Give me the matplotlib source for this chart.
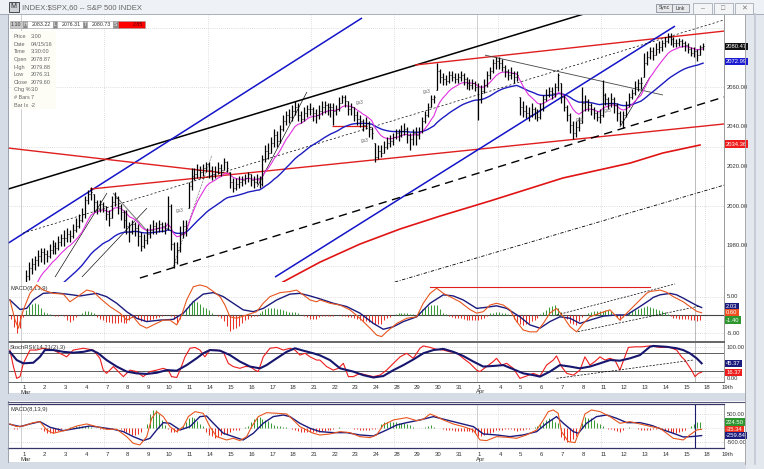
import numpy as np
import pandas as pd
import matplotlib
matplotlib.use("Agg")
import matplotlib.pyplot as plt
from matplotlib.patches import Rectangle
from matplotlib.lines import Line2D
from matplotlib.transforms import blended_transform_factory as blend

plt.rcParams['font.family'] = ['Liberation Sans', 'DejaVu Sans']

W, H = 764, 469

# ---------------- data ----------------
day_labels = ['1', '2', '3', '4', '7', '8', '9', '10', '11', '14', '15', '16', '17', '18',
              '21', '22', '23', '24', '28', '29', '30', '31', '1', '4', '5', '6', '7', '8',
              '11', '12', '13', '14', '15', '18', '19th']
month_labels = {0: 'Mar', 22: 'Apr'}
monday_days = [4, 9, 14, 18, 23, 28, 33]
month_days = [0, 22]
cursor_day = 32.54

# estimated hourly closes of the days before the visible window (Feb 23 - Feb 29)
prior_closes = [1940, 1935, 1931, 1929, 1927, 1925, 1921,
                1905, 1895, 1900, 1910, 1918, 1924, 1930,
                1932, 1936, 1940, 1942, 1944, 1947, 1952,
                1958, 1960, 1955, 1952, 1950, 1948, 1948,
                1955, 1952, 1948, 1945, 1944, 1940, 1932]

# hourly bars, 7 per day, Mar 1 .. Apr 15
closes = [
    [1952, 1965, 1969, 1971, 1973, 1975, 1977],
    [1976, 1975, 1978, 1980, 1979, 1982, 1984],
    [1984, 1986, 1985, 1988, 1990, 1993, 1996],
    [2003, 2006, 2007, 2002, 1999, 2001, 2000],
    [1996, 1994, 2002, 2004, 2000, 1997, 1993],
    [1990, 1987, 1991, 1989, 1985, 1980, 1983],
    [1986, 1988, 1990, 1989, 1991, 1990, 1989],
    [2000, 1981, 1972, 1978, 1986, 1990, 1989],
    [2010, 2015, 2016, 2018, 2017, 2019, 2021],
    [2018, 2016, 2017, 2019, 2018, 2022, 2019],
    [2012, 2009, 2011, 2012, 2013, 2014, 2016],
    [2013, 2012, 2014, 2011, 2024, 2028, 2027],
    [2032, 2036, 2033, 2039, 2043, 2046, 2045],
    [2048, 2050, 2046, 2044, 2047, 2049, 2049],
    [2047, 2046, 2048, 2050, 2051, 2050, 2050],
    [2048, 2049, 2052, 2055, 2053, 2049, 2050],
    [2046, 2044, 2043, 2041, 2042, 2039, 2037],
    [2025, 2028, 2027, 2030, 2032, 2033, 2035],
    [2037, 2036, 2038, 2039, 2036, 2034, 2037],
    [2036, 2038, 2043, 2046, 2050, 2054, 2055],
    [2068, 2065, 2064, 2063, 2066, 2065, 2064],
    [2065, 2066, 2064, 2062, 2061, 2062, 2060],
    [2054, 2058, 2061, 2066, 2068, 2072, 2073],
    [2072, 2070, 2068, 2066, 2067, 2065, 2066],
    [2050, 2048, 2047, 2046, 2049, 2047, 2045],
    [2049, 2054, 2056, 2058, 2057, 2060, 2066],
    [2055, 2050, 2046, 2041, 2037, 2040, 2042],
    [2052, 2053, 2051, 2049, 2047, 2045, 2046],
    [2056, 2054, 2052, 2054, 2051, 2047, 2043],
    [2046, 2051, 2055, 2057, 2060, 2062, 2062],
    [2072, 2075, 2078, 2076, 2079, 2080, 2082],
    [2083, 2085, 2084, 2082, 2082, 2083, 2082],
    [2081, 2079, 2077, 2078, 2076, 2080, 2080.5],
]
highs = [
    [1955, 1968, 1972, 1974, 1975, 1978, 1979],
    [1979, 1978, 1981, 1983, 1982, 1985, 1986],
    [1988, 1989, 1988, 1991, 1994, 1996, 1999],
    [2005, 2008, 2009.5, 2006, 2003, 2003, 2002],
    [2000, 1998, 2005, 2007, 2005, 2001, 1998],
    [1998, 1992, 1993, 1992, 1991, 1987, 1986],
    [1989, 1991, 1993, 1992, 1993, 1992, 1992],
    [2005, 2001, 1982, 1982, 1990, 1993, 1993],
    [2012, 2019, 2019, 2021, 2020, 2021, 2022],
    [2022, 2020, 2020, 2022, 2021, 2024.5, 2023],
    [2017, 2014, 2014, 2015, 2015, 2016, 2017],
    [2016, 2015, 2016, 2015, 2026, 2031, 2032],
    [2035, 2039, 2038, 2041, 2046, 2048, 2049],
    [2051, 2053, 2052, 2048, 2050, 2051, 2052],
    [2050, 2049, 2051, 2053, 2053, 2052, 2052],
    [2052, 2051, 2055, 2056, 2056, 2053, 2052],
    [2050, 2048, 2046, 2044, 2045, 2043, 2040],
    [2032, 2031, 2031, 2033, 2035, 2036, 2037],
    [2039, 2039, 2041, 2042, 2040, 2037, 2039],
    [2040, 2040, 2045, 2048, 2052, 2056, 2056],
    [2072, 2069, 2067, 2066, 2068, 2068, 2067],
    [2067, 2068, 2067, 2065, 2064, 2064, 2063],
    [2062, 2061, 2064, 2068, 2070, 2074, 2075],
    [2075, 2074, 2071, 2069, 2070, 2068, 2068],
    [2055, 2053, 2051, 2050, 2052, 2050, 2049],
    [2052, 2056, 2059, 2060, 2060, 2062, 2067],
    [2062, 2056, 2051, 2047, 2043, 2043, 2045],
    [2060, 2056, 2054, 2052, 2050, 2048, 2049],
    [2063.5, 2057, 2055, 2057, 2055, 2052, 2048],
    [2048, 2053, 2057, 2059, 2063, 2064, 2065],
    [2077, 2078, 2080, 2080, 2082, 2083, 2083.5],
    [2085, 2087, 2087, 2085, 2084, 2084.5, 2084],
    [2083, 2082, 2080, 2080, 2079, 2081, 2082],
]
lows = [
    [1937, 1950, 1963, 1966, 1968, 1970, 1972],
    [1971, 1972, 1974, 1976, 1976, 1978, 1980],
    [1980, 1982, 1982, 1984, 1987, 1989, 1992],
    [1994, 2001, 2003, 1997, 1996, 1997, 1997],
    [1993, 1990, 1994, 2000, 1996, 1993, 1989],
    [1986, 1982, 1986, 1985, 1980, 1977.5, 1979],
    [1981, 1984, 1986, 1986, 1987, 1987, 1986],
    [1988, 1978, 1969, 1971, 1977, 1984, 1985],
    [1999, 2008, 2013, 2014, 2014, 2015, 2017],
    [2014, 2013, 2014, 2016, 2015, 2018, 2017],
    [2009, 2007, 2008, 2009, 2010, 2011, 2012],
    [2010, 2009, 2011, 2009, 2010, 2022, 2024],
    [2027, 2030, 2030, 2032, 2038, 2041, 2042],
    [2043, 2046, 2043, 2042, 2043, 2045, 2046],
    [2043, 2042, 2044, 2046, 2047, 2046, 2045],
    [2041, 2046, 2048, 2052, 2050, 2046, 2046],
    [2043, 2041, 2040, 2038, 2039, 2035, 2034],
    [2022.5, 2024, 2025, 2027, 2029, 2030, 2031],
    [2034, 2033, 2035, 2036, 2032, 2028.5, 2031],
    [2031, 2034, 2037, 2042, 2045, 2050, 2052],
    [2058.5, 2062, 2061, 2061, 2062, 2063, 2062],
    [2062, 2063, 2061, 2059, 2058.5, 2059, 2058],
    [2043.5, 2052, 2057, 2060, 2064, 2067, 2069],
    [2069, 2068, 2065, 2063.5, 2064, 2062, 2063],
    [2046, 2045, 2044.5, 2043, 2045, 2044, 2043],
    [2044, 2048, 2053, 2055, 2054, 2055, 2058],
    [2052, 2048, 2043, 2037, 2034, 2035, 2038],
    [2042, 2048, 2048, 2046, 2044, 2043, 2042],
    [2045, 2051, 2049, 2050, 2047, 2043, 2041],
    [2039.5, 2045, 2050, 2054, 2056, 2058, 2059],
    [2065, 2071, 2074, 2073.5, 2076, 2077, 2078],
    [2080, 2082, 2081, 2080, 2080, 2080.5, 2080],
    [2078, 2077, 2075.5, 2075, 2073, 2076, 2078.5],
]

# long red moving average (day, price)
red_ma = [(12.63, 1961.8), (14.42, 1971.8), (16.35, 1980.9), (18.29, 1988.5), (20.22, 1995.0),
          (22.63, 2002.6), (26.16, 2014.2), (29.40, 2021.7), (30.99, 2026.8), (32.78, 2030.8)]

# trend lines on the price panel: (day0, price0, day1, price1)
trendlines = [
    (-0.652, 2008.6, 27.95, 2099.3),
    (-0.652, 1981.3, 16.45, 2094.8),
    (-0.652, 2029.3, 10.07, 2016.4),
    (3.31, 2008.6, 33.94, 2041.4),
    (19.01, 2071.1, 33.94, 2088.2),
    (12.25, 1964.3, 31.57, 2090.7),
    (5.72, 1963.8, 33.94, 2055.0),
    (18.04, 1961.8, 33.94, 2010.6),
    (0.07, 1986.4, 33.94, 2093.8),
    (22.39, 2076.1, 30.99, 2056.0),
    (1.62, 1964.3, 4.13, 2006.6),
    (2.92, 1964.3, 6.06, 1999.0),
    (4.42, 2006.6, 6.11, 1987.0),
    (7.32, 1969.3, 9.20, 2025.7),
    (11.38, 2009.6, 13.79, 2057.5),
    (28.91, 2039.8, 30.36, 2065.0),
    (15.00, 2040.4, 16.69, 2040.4),
]
trend_styles = [
    dict(color='#000000', lw=1.1),
    dict(color='#1414c8', lw=1.1),
    dict(color='#e01e1e', lw=1.0),
    dict(color='#e01e1e', lw=1.0),
    dict(color='#e01e1e', lw=1.0),
    dict(color='#1414c8', lw=1.1),
    dict(color='#000000', lw=1.0, dashes=(6, 4)),
    dict(color='#000000', lw=0.6, dashes=(4, 2, 1, 2)),
    dict(color='#000000', lw=0.5, dashes=(3, 3)),
    dict(color='#444444', lw=0.6),
    dict(color='#000000', lw=0.45),
    dict(color='#000000', lw=0.45),
    dict(color='#808080', lw=0.8),
    dict(color='#000000', lw=0.45, dashes=(1, 1.5)),
    dict(color='#000000', lw=0.45),
    dict(color='#000000', lw=0.45),
    dict(color='#e01e1e', lw=0.9),
]
notes = [(7.66, 1998.0, 'gs3'), (16.35, 2052.4, 'gs3'), (16.59, 2033.3, 'gs3'),
         (19.59, 2058.0, 'gs3'), (26.98, 2043.9, 'gap'), (28.33, 2048.4, 'gs3')]

# upper MACD(8,13,9) (day, value)
macd1_line = [(-0.56, 4.1), (-0.31, -1.4), (-0.15, -3.6), (0.09, 1.4), (0.41, 5.9), (0.73, 8.2),
              (1.05, 6.8), (1.54, 5.9), (2.02, 5.7), (2.34, 3.6), (2.83, 5.5), (3.15, 6.8),
              (3.47, 6.4), (3.79, 4.6), (4.27, 2.3), (4.76, 0.5), (5.08, -1.4), (5.40, -0.5),
              (5.72, -2.7), (6.05, -3.6), (6.37, -2.7), (6.85, -1.4), (7.17, -1.4), (7.50, -2.7),
              (7.74, 0.0), (7.98, 4.1), (8.30, 7.7), (8.62, 8.2), (8.94, 7.7), (9.27, 6.4),
              (9.59, 5.0), (9.83, 2.7), (10.07, -0.5), (10.39, -0.9), (10.88, 0.0), (11.36, 0.9),
              (11.68, 3.2), (12.00, 5.0), (12.49, 6.1), (12.97, 6.4), (13.29, 6.8), (13.61, 5.5),
              (13.94, 4.1), (14.26, 3.6), (14.42, 4.1), (14.90, 3.2), (15.39, 2.7), (15.87, 1.4),
              (16.35, -0.9), (16.84, -3.6), (17.16, -5.5), (17.40, -5.9), (17.64, -4.6),
              (18.13, -2.3), (18.61, -0.9), (19.09, -0.5), (19.41, 3.2), (19.74, 5.9), (20.06, 7.3),
              (20.38, 5.9), (20.70, 5.0), (21.18, 3.6), (21.66, 1.5), (21.99, 0.5), (22.31, 0.9),
              (22.63, 2.7), (22.95, 3.2), (23.28, 2.7), (23.60, 1.4), (23.92, -1.8), (24.24, -4.1),
              (24.56, -4.6), (24.89, -4.6), (25.21, -2.3), (25.53, 0.5), (25.85, 1.8),
              (26.18, -0.5), (26.50, -3.2), (26.82, -4.6), (27.14, -2.3), (27.46, -0.5),
              (27.95, 0.5), (28.43, 1.4), (28.91, -1.4), (29.24, 0.5), (29.72, 3.2), (30.20, 5.9),
              (30.36, 6.4), (30.85, 6.8), (31.17, 6.2), (31.49, 5.0), (31.97, 3.6), (32.29, 2.3),
              (32.62, 1.0), (32.86, 0.6)]
macd1_signal = [(-0.56, 4.1), (-0.07, 1.5), (0.25, 1.8), (0.57, 4.1), (1.05, 5.9), (1.54, 6.1),
                (2.18, 5.7), (2.83, 5.2), (3.63, 5.9), (4.11, 5.0), (4.60, 3.2), (5.08, 0.9),
                (5.56, -0.9), (6.05, -1.8), (6.69, -1.4), (7.33, -1.2), (7.82, 0.5), (8.30, 3.6),
                (8.78, 5.7), (9.27, 6.1), (9.75, 5.0), (10.23, 3.2), (10.71, 1.4), (11.20, 0.9),
                (11.68, 1.8), (12.33, 4.1), (12.97, 5.7), (13.45, 5.9), (13.94, 5.2), (14.42, 4.4),
                (15.06, 3.2), (15.71, 2.3), (16.35, 0.5), (17.00, -2.3), (17.48, -3.9),
                (17.97, -3.2), (18.45, -1.8), (19.09, -0.5), (19.74, 3.2), (20.38, 5.5),
                (20.86, 5.2), (21.34, 4.1), (21.99, 1.8), (22.47, 2.1), (22.95, 2.5), (23.44, 1.8),
                (24.08, -0.5), (24.56, -2.7), (25.05, -3.6), (25.53, -1.8), (26.01, -0.5),
                (26.50, -0.9), (26.98, -2.3), (27.46, -1.4), (28.11, -0.3), (28.75, 0.0),
                (29.24, 0.0), (29.88, 2.3), (30.36, 4.1), (30.52, 4.8), (30.85, 5.5), (31.33, 5.9),
                (31.65, 5.5), (31.97, 4.6), (32.29, 3.6), (32.62, 2.6), (32.86, 2.03)]

# MACD panel annotations: (day0, v0, day1, v1)
macd_lines = [(19.73, 7.65, 30.36, 7.65), (25.86, 0.0, 31.57, 8.47), (26.88, -4.56, 32.78, 2.46)]
stoch_line = (25.85, -4.9, 32.46, 57.3)

# StochRSI (day, value)
stoch_k = [(-0.56, 91), (-0.39, 35), (-0.23, -5), (-0.07, 1), (0.09, 46), (0.41, 91), (0.73, 91),
           (1.05, 97), (1.54, 91), (2.02, 74), (2.18, 68), (2.50, 91), (2.99, 97), (3.47, 91),
           (3.79, 63), (3.95, 23), (4.11, 12), (4.44, 35), (4.68, 18), (4.92, 1), (5.24, 23),
           (5.56, 18), (5.88, 1), (6.21, 18), (6.53, 23), (6.85, 29), (7.09, 23), (7.25, 1),
           (7.50, -2), (7.66, 23), (7.90, 68), (8.14, 97), (8.38, 100), (8.62, 91), (8.86, 68),
           (9.10, 91), (9.43, 91), (9.75, 85), (9.99, 46), (10.23, 35), (10.55, 29), (10.80, 35),
           (11.04, 35), (11.28, 23), (11.44, 18), (11.68, 68), (12.00, 97), (12.33, 100),
           (12.65, 91), (12.97, 97), (13.21, 91), (13.45, 74), (13.70, 80), (13.94, 68),
           (14.26, 57), (14.42, 57), (14.74, 35), (15.06, 23), (15.31, 29), (15.55, 46),
           (15.79, 1), (16.03, 1), (16.35, 12), (16.68, 6), (17.00, 1), (17.32, 6), (17.64, 23),
           (17.97, 46), (18.29, 68), (18.61, 80), (18.93, 63), (19.25, 97), (19.41, 105),
           (19.74, 100), (20.06, 93), (20.38, 91), (20.70, 85), (21.02, 82), (21.34, 63),
           (21.66, 46), (21.99, 23), (22.15, 18), (22.47, 35), (22.79, 52), (22.95, 63),
           (23.20, 40), (23.44, 46), (23.76, 29), (24.08, -5), (24.40, 3), (24.73, 12),
           (25.05, 3), (25.37, 40), (25.69, 57), (25.85, 71), (26.09, 35), (26.34, 12),
           (26.66, 6), (26.98, 23), (27.22, 68), (27.46, 40), (27.70, 52), (27.95, 68),
           (28.19, 57), (28.43, 63), (28.67, 57), (28.91, 23), (29.15, 68), (29.32, 100),
           (29.64, 102), (29.96, 102), (30.36, 105), (30.85, 100), (31.33, 100), (31.65, 91),
           (31.89, 68), (32.05, 57), (32.21, 40), (32.37, 23), (32.54, 1), (32.70, 12),
           (32.86, 16)]
stoch_d = [(-0.56, 85), (-0.23, 57), (0.09, 46), (0.57, 48), (0.89, 68), (1.13, 91), (1.54, 91),
           (2.02, 85), (2.50, 82), (2.99, 85), (3.39, 91), (3.71, 80), (4.11, 57), (4.60, 35),
           (5.08, 18), (5.56, 12), (6.05, 10), (6.53, 14), (7.01, 23), (7.50, 21), (7.98, 40),
           (8.46, 63), (8.78, 80), (9.10, 91), (9.59, 89), (10.07, 74), (10.55, 52), (11.04, 35),
           (11.52, 29), (11.84, 40), (12.33, 63), (12.81, 85), (13.21, 97), (13.61, 89),
           (14.10, 80), (14.42, 73), (14.90, 57), (15.39, 29), (16.03, 18), (16.51, 6),
           (17.00, -2), (17.48, 3), (17.97, 23), (18.45, 40), (18.93, 59), (19.41, 80),
           (19.90, 91), (20.38, 95), (20.86, 85), (21.34, 71), (21.83, 52), (22.31, 35),
           (22.79, 37), (23.28, 40), (23.76, 26), (24.24, 12), (24.73, 6), (25.05, 1),
           (25.53, 18), (26.01, 40), (26.50, 35), (26.98, 29), (27.46, 35), (27.95, 46),
           (28.43, 57), (28.91, 55), (29.40, 63), (29.88, 74), (30.36, 102), (30.52, 105),
           (31.17, 102), (31.65, 97), (31.97, 91), (32.29, 80), (32.62, 63), (32.86, 46)]

# lower MACD(8,13,9) window (day, value)
macd2_line = [(-0.56, 155), (-0.23, 60), (0.09, 83), (0.57, 202), (0.89, 238), (1.22, -60),
              (1.54, -178), (1.86, -119), (2.18, -60), (2.67, 83), (3.15, 155), (3.63, 60),
              (4.11, -36), (4.60, -36), (5.08, -298), (5.40, -536), (5.72, -595), (6.05, -298),
              (6.29, 357), (6.53, 595), (6.85, 417), (7.17, 60), (7.50, -119), (7.82, 60),
              (8.06, 417), (8.38, 595), (8.78, 536), (9.10, 60), (9.43, -298), (9.91, -417),
              (10.23, -357), (10.55, -440), (10.88, -298), (11.12, 60), (11.44, 417), (11.84, 559),
              (12.33, 536), (12.81, 512), (13.13, 298), (13.45, 60), (13.77, -60), (14.10, -178),
              (14.42, -240), (14.90, -202), (15.39, -119), (15.87, -155), (16.35, -298),
              (16.84, -333), (17.16, -238), (17.48, 119), (17.97, 298), (18.61, 381), (19.09, 274),
              (19.41, 321), (19.74, 512), (20.06, 417), (20.38, 298), (20.86, 155), (21.34, 60),
              (21.83, -60), (22.15, -417), (22.47, -440), (22.95, -298), (23.44, -321),
              (23.92, -357), (24.40, -238), (24.89, -60), (25.21, 298), (25.45, 595), (25.69, 655),
              (25.93, 536), (26.09, -119), (26.42, -476), (26.74, -512), (26.98, -60), (27.22, 512),
              (27.54, 655), (27.95, 595), (28.43, 417), (28.91, 179), (29.40, 238), (29.88, 155),
              (30.36, 70), (30.85, 0), (31.17, -178), (31.49, -357), (31.97, -417), (32.29, -238),
              (32.62, -60), (32.86, -35)]
macd2_signal = [(-0.56, 143), (-0.07, 60), (0.41, 155), (0.89, 238), (1.38, 36), (2.02, -83),
                (2.67, 0), (3.31, 83), (3.79, 36), (4.44, -36), (4.92, -119), (5.40, -298),
                (5.88, -440), (6.21, -357), (6.53, -60), (6.85, 202), (7.17, 179), (7.66, -60),
                (8.14, 60), (8.62, 417), (8.94, 440), (9.27, 179), (9.75, -178), (10.23, -298),
                (10.71, -417), (11.20, -178), (11.68, 179), (12.16, 417), (12.65, 476), (12.97, 417),
                (13.45, 179), (13.94, 0), (14.42, -119), (15.06, -155), (15.71, -155), (16.35, -238),
                (17.00, -274), (17.64, -60), (18.13, 119), (18.61, 202), (19.25, 298), (19.90, 417),
                (20.54, 298), (21.18, 179), (21.83, 60), (22.31, -202), (22.95, -238), (23.60, -298),
                (24.24, -238), (24.89, -119), (25.37, 179), (25.85, 417), (26.18, 179), (26.66, -119),
                (26.90, -178), (27.30, 179), (27.78, 417), (28.27, 476), (28.75, 357), (29.24, 202),
                (29.88, 202), (30.36, 119), (30.52, 83), (31.01, -60), (31.49, -178), (31.97, -310),
                (32.29, -300), (32.62, -280), (32.86, -260)]

# -------------- derived series --------------
n_prior_days = len(prior_closes) // 7
c_all = np.concatenate([np.array(prior_closes, float), np.ravel(closes).astype(float)])
h_all = np.concatenate([np.array(prior_closes, float), np.ravel(highs).astype(float)])
l_all = np.concatenate([np.array(prior_closes, float), np.ravel(lows).astype(float)])
h_all = np.maximum(h_all, c_all)
l_all = np.minimum(l_all, c_all)
o_all = np.clip(np.r_[c_all[0], c_all[:-1]], l_all, h_all)
xs = (np.arange(len(c_all)) + 0.5) / 7.0 - n_prior_days

s = pd.Series(c_all)
ma_fast = s.ewm(span=10, adjust=False).mean().values
ma_slow = s.ewm(span=34, adjust=False).mean().values

# ---------------- figure ----------------
fig = plt.figure(figsize=(W / 100, H / 100), dpi=100)
fig.patch.set_facecolor('#d6dce5')


def fr(x0, y0, x1, y1):
    return [x0 / W, 1 - y1 / H, (x1 - x0) / W, (y1 - y0) / H]


def frect(x0, y0, x1, y1, fc, ec='none', lw=0.0, z=-5):
    fig.add_artist(Rectangle((x0 / W, 1 - y1 / H), (x1 - x0) / W, (y1 - y0) / H,
                             transform=fig.transFigure, facecolor=fc, edgecolor=ec,
                             linewidth=lw, zorder=z))


def ftext(x, y, s_, **kw):
    fig.text(x / W, 1 - y / H, s_, **kw)


def fline(xx, yy, z=5, **kw):
    fig.add_artist(Line2D([v / W for v in xx], [1 - v / H for v in yy],
                          transform=fig.transFigure, zorder=z, **kw))


# window chrome
frect(0, 0, W, 14, '#eef1f5', z=-6)
fline([0, W], [14, 14], color='#9aa3b0', lw=0.6)
frect(8, 14, 745, 393, 'white', z=-5)
frect(8, 401, 745, 462, 'white', z=-5)
fline([7.5, 7.5], [14, 393], color='#8a93a0', lw=0.6)
fline([7.5, 7.5], [401, 462], color='#8a93a0', lw=0.6)
fline([8, 745], [401.5, 401.5], color='#555577', lw=0.8)
fline([744.5, 744.5], [14, 464], color='#a0a0a0', lw=0.6)
frect(746, 14, 764, 469, '#e3e7ee', z=-4)
fline([755, 755], [14, 464], color='#c2c8d2', lw=1.2)
# icon + title
frect(9, 2, 19, 12, '#cfd3d8', ec='#333333', lw=0.6, z=6)
ftext(10.5, 7, 'M', fontsize=5, color='#222222', va='center', zorder=7)
ftext(22, 7.5, 'INDEX:$SPX,60 -- S&P 500 INDEX', fontsize=5.5, color='#666666',
      va='center', zorder=7)
for bx0, bx1, lab in [(656, 672, 'Sync'), (672, 689, 'Link')]:
    frect(bx0, 4, bx1, 12, '#e6e8ec', ec='#7a808a', lw=0.5, z=6)
    ftext((bx0 + bx1) / 2, 8, lab, fontsize=3.6, color='#333333', ha='center', va='center', zorder=7)
for bx0, bx1, lab in [(693, 712, '\u2013'), (714, 733, '\u25a1'), (735, 753, '\u2715')]:
    frect(bx0, 3, bx1, 14, '#f3f4f6', ec='#9aa0aa', lw=0.5, z=6)
    ftext((bx0 + bx1) / 2, 8.5, lab, fontsize=5, color='#777777', ha='center', va='center',
          zorder=7)

# panels
XL, XR = -0.652, 33.94
ax = fig.add_axes(fr(8, 15, 724, 282))
m1 = fig.add_axes(fr(8, 282, 724, 341))
st = fig.add_axes(fr(8, 342, 724, 382))
m2 = fig.add_axes(fr(8, 404, 724, 448))
ax.set_ylim(1961.8, 2096.3)
m1.set_ylim(-7.1, 9.0)
st.set_ylim(-17.3, 118.3)
m2.set_ylim(-704, 868)
for a in (ax, m1, st, m2):
    a.set_xlim(XL, XR)
    a.set_xticks([])
    a.set_yticks([])
    a.set_facecolor('white')
    for sp in a.spines.values():
        sp.set_color('#666666')
        sp.set_linewidth(0.7)
    a.spines['left'].set_visible(False)
    a.spines['right'].set_color('#9a9a9a')
    for d in monday_days:
        a.axvline(d, color='#c4c4c4', lw=0.5, ls=(0, (1, 2)), zorder=0)
    for d in month_days:
        a.axvline(d, color='#c8c8c8', lw=0.6, zorder=0)
ax.spines['top'].set_visible(False)
m1.spines['top'].set_visible(False)
for sp in ('top', 'bottom'):
    m2.spines[sp].set_color('#333366')
    m2.spines[sp].set_linewidth(0.9)
for a in (ax, m1, st):
    a.axvline(cursor_day, color='#b0b0b0', lw=0.6, zorder=0)
m2.axvline(cursor_day, color='#1b1b70', lw=0.8, zorder=1)

# price grid
for p in (2090, 2060, 2030, 2000, 1970):
    ax.axhline(p, color='#c0c0c0', lw=0.5, ls=(0, (1, 2)), zorder=0)

# trend lines
for (x0, p0, x1, p1), sty in zip(trendlines, trend_styles):
    ax.plot([x0, x1], [p0, p1], zorder=2, solid_capstyle='butt', **sty)
rx, rp = zip(*red_ma)
ax.plot(rx, rp, color='#e01414', lw=1.2, zorder=2)

# moving averages and price bars
ax.plot(xs, ma_slow, color='#1c1cc0', lw=1.0, zorder=3)
ax.plot(xs, ma_fast, color='#e030e0', lw=0.8, zorder=3)
tk = 0.33 / 7.0
ax.vlines(xs, l_all, h_all, color='#000000', lw=0.9, zorder=4)
ax.hlines(o_all, xs - tk, xs, color='#000000', lw=0.6, zorder=4)
ax.hlines(c_all, xs, xs + tk, color='#000000', lw=0.6, zorder=4)
for x, p, t in notes:
    ax.text(x, p, t, fontsize=3.4, color='#666666', ha='center', va='center', zorder=5)

# right axis labels
bt = blend(ax.transAxes, ax.transData)
for p in (2060, 2040, 2020, 2000, 1980):
    ax.text(1.004, p, '%.2f' % p, transform=bt, fontsize=4.2, color='#333333', va='center',
            ha='left', clip_on=False)


def vbox(a, v, txt, fc, tc='white'):
    a.text(1.003, v, txt, transform=blend(a.transAxes, a.transData), fontsize=4.2, color=tc,
           va='center', ha='left', clip_on=False, zorder=10,
           bbox=dict(boxstyle='square,pad=0.18', fc=fc, ec='none'))


vbox(ax, 2080.47, '2080.47', '#111111')
vbox(ax, 2072.99, '2072.99', '#1a1ad0')
vbox(ax, 2031.3, '2034.36', '#ee1c1c')

# info box
frect(11, 31, 56, 109, '#fdfdf6', z=8)
info = [('Price', '3.00'), ('Date', '04/15/16'), ('Time', '3:30:00'), ('Open', '2078.87'),
        ('High', '2079.88'), ('Low', '2076.31'), ('Close', '2079.60'), ('Chg %', '3.0'),
        ('# Bars', '7'), ('Bar Ix', '-2')]
for i, (k, v) in enumerate(info):
    yy = 36.7 + i * 7.6
    ftext(14, yy, k, fontsize=4.0, color='#666666', va='center', zorder=9)
    ftext(31, yy, v, fontsize=4.0, color='#666666', va='center', zorder=9)
# toolbar strip
tool = [(10, 23, '#c8c8c8', '1.10', '#333333'), (23, 27, '#8a8a8a', 'H', '#ffffff'),
        (27, 53, '#ffffff', '2083.22', '#333333'), (53, 57, '#8a8a8a', 'L', '#ffffff'),
        (57, 83, '#ffffff', '2076.31', '#333333'), (83, 87, '#8a8a8a', 'T', '#ffffff'),
        (87, 113, '#ffffff', '2080.73', '#333333'), (113, 118, '#8a8a8a', 'S', '#ffffff'),
        (118, 145, '#ff0000', '2.85', '#550000')]
for x0, x1, fc, lab, tc in tool:
    frect(x0, 21, x1, 28, fc, ec='#9a9a9a', lw=0.4, z=8)
    if x1 - x0 > 10:
        ftext(x1 - 2, 24.6, lab, fontsize=3.8, color=tc, ha='right', va='center', zorder=9)
    else:
        ftext((x0 + x1) / 2, 24.6, lab, fontsize=3.4, color=tc, ha='center', va='center', zorder=9)


def draw_macd(a, line_pts, sig_pts):
    lx, lv = zip(*line_pts)
    sx, sv = zip(*sig_pts)
    lo = max(lx[0], sx[0])
    hi = min(lx[-1], sx[-1])
    vx = xs[(xs >= lo) & (xs <= hi)]
    hv = np.interp(vx, lx, lv) - np.interp(vx, sx, sv)
    a.vlines(vx, 0, hv, colors=np.where(hv >= 0, '#3a9a3a', '#e8322a'), lw=0.75, zorder=2)
    a.plot(sx, sv, color='#1b1b7e', lw=1.0, zorder=3)
    a.plot(lx, lv, color='#e8561e', lw=0.8, zorder=4)


# MACD panel
m1.axhline(0, color='#444444', lw=0.8, zorder=1)
for v in (5, -5):
    m1.axhline(v, color='#c0c0c0', lw=0.5, ls=(0, (1, 2)), zorder=0)
draw_macd(m1, macd1_line, macd1_signal)
for i, (x0, v0, x1, v1) in enumerate(macd_lines):
    if i == 0:
        m1.plot([x0, x1], [v0, v1], color='#e01e1e', lw=0.8, zorder=3)
    else:
        m1.plot([x0, x1], [v0, v1], color='#000000', lw=0.5, dashes=(3, 2), zorder=3)
m1.text(0.003, 0.93, 'MACD(8,13,9)', transform=m1.transAxes, fontsize=4.2, color='#333333',
        va='top', ha='left')
b1 = blend(m1.transAxes, m1.transData)
for v in (5, -5):
    m1.text(1.004, v, '%.2f' % v, transform=b1, fontsize=4.2, color='#333333', va='center',
            clip_on=False)
vbox(m1, 2.2, '2.03', '#1b1b7e')
vbox(m1, 0.74, '0.60', '#ee5020')
vbox(m1, -1.37, '-1.40', '#2e962e')

# StochRSI panel
for v in (80, 20):
    st.axhline(v, color='#444444', lw=0.6, zorder=1)
for v in (100, 0):
    st.axhline(v, color='#c0c0c0', lw=0.5, ls=(0, (1, 2)), zorder=0)
kx, kv = zip(*stoch_k)
dx, dv = zip(*stoch_d)
st.plot(kx, kv, color='#ee1c1c', lw=0.8, zorder=3)
st.plot(dx, dv, color='#16166e', lw=1.5, zorder=4)
st.plot([stoch_line[0], stoch_line[2]], [stoch_line[1], stoch_line[3]], color='#000000',
        lw=0.5, dashes=(3, 2), zorder=3)
st.text(0.003, 0.93, 'StochRSI(14,21(2),3)', transform=st.transAxes, fontsize=4.2,
        color='#333333', va='top', ha='left')
b2 = blend(st.transAxes, st.transData)
st.text(1.004, 100, '100.00', transform=b2, fontsize=4.2, color='#333333', va='center',
        clip_on=False)
st.text(1.004, -4, '0.00', transform=b2, fontsize=4.2, color='#333333', va='center',
        clip_on=False)
vbox(st, 45.37, '45.37', '#1b1b7e')
vbox(st, 16.37, '16.37', '#ee1c1c')

# lower MACD window
m2.axhline(0, color='#c8c8c8', lw=0.5, ls=(0, (1, 2)), zorder=0)
for v in (500, -500):
    m2.axhline(v, color='#c0c0c0', lw=0.5, ls=(0, (1, 2)), zorder=0)
draw_macd(m2, macd2_line, macd2_signal)
m2.text(0.003, 0.93, 'MACD(8,13,9)', transform=m2.transAxes, fontsize=4.2, color='#333333',
        va='top', ha='left')
b3 = blend(m2.transAxes, m2.transData)
m2.text(1.004, 500, '500.00', transform=b3, fontsize=4.2, color='#333333', va='center',
        clip_on=False)
m2.text(1.004, -500, '-500.00', transform=b3, fontsize=4.2, color='#333333', va='center',
        clip_on=False)
vbox(m2, 224.5, '224.50', '#2e962e')
vbox(m2, -35.3, '-35.34', '#ee3020')
vbox(m2, -259.8, '-259.84', '#1b1b7e')

# date labels
for d, lab in enumerate(day_labels):
    px = 21.5 + 20.7 * d + 2.6
    ftext(px, 387, lab, fontsize=4.3, color='#333333', ha='center', va='center')
    ftext(px, 454, lab, fontsize=4.3, color='#333333', ha='center', va='center')
for d, lab in month_labels.items():
    px = 21.5 + 20.7 * d + 4
    ftext(px, 392, lab, fontsize=4.3, color='#333333', ha='center', va='center')
    ftext(px, 459.5, lab, fontsize=4.3, color='#333333', ha='center', va='center')

fig.savefig('out.png', dpi=100)
